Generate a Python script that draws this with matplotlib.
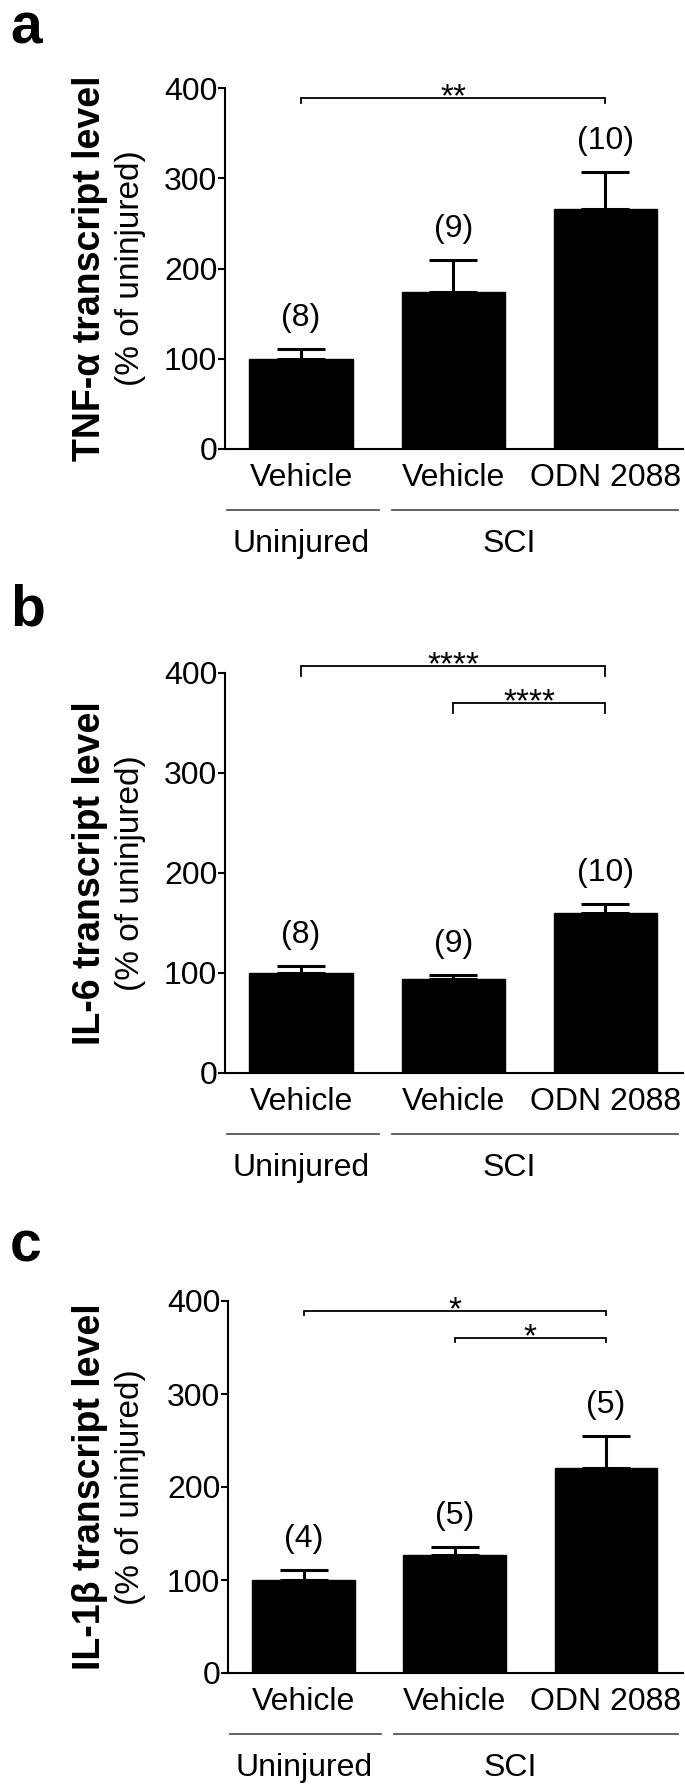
import matplotlib
matplotlib.use('Agg')
import matplotlib.pyplot as plt
from matplotlib.transforms import ScaledTranslation
from matplotlib import font_manager
import numpy as np

# ---------------------------------------- data ----------------------------------------
conditions = ['Vehicle', 'Vehicle', 'ODN 2088']
groups = ['Uninjured', 'SCI']
group_members = [[0], [1, 2]]
yticks = [0, 100, 200, 300, 400]

tnf_mean = [100, 174, 266]
tnf_sem = [11, 35, 41]
tnf_n = [8, 9, 10]
tnf_sig = [(0, 2, 389, '**')]          # (from bar, to bar, bracket height, label)

il6_mean = [100, 94, 160]
il6_sem = [7, 4, 9]
il6_n = [8, 9, 10]
il6_sig = [(0, 2, 407, '****'), (1, 2, 370, '****')]

il1b_mean = [100, 127, 220]
il1b_sem = [11, 8, 35]
il1b_n = [4, 5, 5]
il1b_sig = [(0, 2, 389, '*'), (1, 2, 360, '*')]

panel_letters = ['a', 'b', 'c']
ylabels_main = ['TNF-\u03b1 transcript level', 'IL-6 transcript level', 'IL-1\u03b2 transcript level']
ylabel_sub = '(% of uninjured)'

# ---------------------------------------- style ----------------------------------------
names = {f.name for f in font_manager.fontManager.ttflist}
FONT = 'Liberation Sans' if 'Liberation Sans' in names else 'DejaVu Sans'
plt.rcParams['font.family'] = FONT

W, H, DPI = 685, 1791, 100
fig = plt.figure(figsize=(W / DPI, H / DPI), dpi=DPI)

# pixel layout for each panel: axes left, y of 400, y of 0, letter baseline, bracket drop(px)
layout = [
    dict(left=225, top=88, bottom=449, letter_y=43, drop=5),
    dict(left=225, top=673, bottom=1073, letter_y=625, drop=10),
    dict(left=228, top=1301, bottom=1673, letter_y=1262, drop=4),
]
RIGHT = 683
TXT = 23
PX = 72.0 / DPI   # points per pixel

panels = [
    (tnf_mean, tnf_sem, tnf_n, tnf_sig),
    (il6_mean, il6_sem, il6_n, il6_sig),
    (il1b_mean, il1b_sem, il1b_n, il1b_sig),
]

x = np.arange(len(conditions))

for k, (mean, sem, n, sig) in enumerate(panels):
    L = layout[k]
    ax = fig.add_axes([L['left'] / W, 1 - L['bottom'] / H,
                       (RIGHT - L['left']) / W, (L['bottom'] - L['top']) / H])

    ax.bar(x, mean, width=0.68, color='black', edgecolor='black', zorder=2)
    ax.errorbar(x, mean, yerr=[np.zeros(len(sem)), sem], fmt='none', ecolor='black',
                elinewidth=2.2, capsize=17.5, capthick=2.2, zorder=1)

    ax.set_xlim(-0.5, 2.51)
    ax.set_ylim(0, 400)
    ax.set_yticks(yticks)
    ax.tick_params(axis='y', direction='out', length=5, width=1.5, pad=0.5, labelsize=TXT)
    ax.set_xticks(x, conditions)
    ax.tick_params(axis='x', length=0, pad=10, labelsize=TXT)
    for s in ['top', 'right']:
        ax.spines[s].set_visible(False)
    for s in ['left', 'bottom']:
        ax.spines[s].set_linewidth(1.5)

    # sample sizes above the error bars
    for xi, m, e, nn in zip(x, mean, sem, n):
        ax.annotate('(%d)' % nn, (xi, m + e), xytext=(0, 23 * PX), textcoords='offset points',
                    ha='center', va='baseline', fontsize=TXT, annotation_clip=False)

    # significance brackets
    drop = L['drop'] * 400.0 / (L['bottom'] - L['top'])
    for i, j, yb, lab in sig:
        ax.plot([i, i, j, j], [yb - drop, yb, yb, yb - drop], color='black', lw=1.3,
                clip_on=False, solid_joinstyle='miter')
        ax.annotate(lab, ((i + j) / 2, yb), xytext=(0, -8 * PX), textcoords='offset points',
                    ha='center', va='baseline', fontsize=24, annotation_clip=False)

    # group lines and group names under the x labels
    line_tr = ax.get_xaxis_transform() + ScaledTranslation(0, -61 / DPI, fig.dpi_scale_trans)
    name_tr = ax.get_xaxis_transform() + ScaledTranslation(0, -103 / DPI, fig.dpi_scale_trans)
    for gi, (g, mem) in enumerate(zip(groups, group_members)):
        x0 = mem[0] - (0.49 if gi == 0 else 0.40)
        x1 = mem[-1] + (0.51 if gi == 0 else 0.48)
        ax.plot([x0, x1], [0, 0], color='#555555', lw=1.3, transform=line_tr, clip_on=False)
        xc = np.mean(mem) - (0.13 if len(mem) > 1 else 0)
        ax.text(xc, 0, g, transform=name_tr, ha='center', va='baseline', fontsize=TXT)

    # y labels (two lines) and panel letter
    yc = 1 - (L['top'] + L['bottom']) / 2 / H
    fig.text(90 / W, yc, ylabels_main[k], rotation=90, ha='center', va='center',
             fontsize=27, fontweight='bold')
    fig.text(131 / W, yc, ylabel_sub, rotation=90, ha='center', va='center', fontsize=24)
    fig.text(10 / W, 1 - L['letter_y'] / H, panel_letters[k], ha='left', va='baseline',
             fontsize=41, fontweight='bold')

fig.savefig('out.png', dpi=DPI)
